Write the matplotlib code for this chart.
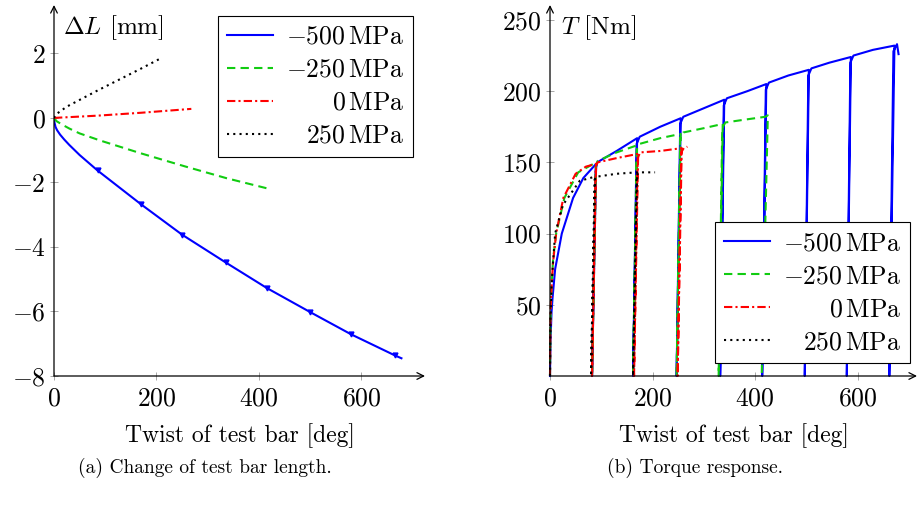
import numpy as np
import matplotlib
matplotlib.use("Agg")
import matplotlib.pyplot as plt

plt.rcParams["font.family"] = ["cmr10", "DejaVu Serif"]
plt.rcParams["mathtext.fontset"] = "cm"
plt.rcParams["axes.formatter.use_mathtext"] = True
plt.rcParams["font.size"] = 17

# ---- data: (a) change of test bar length ----
cycle_x = [85, 170, 250, 335, 415, 500, 580, 665]

dl_m500_x = [0, 1, 3, 6, 12, 20, 30, 50, 85, 170, 250, 335, 415, 500, 580, 665, 678]
dl_m500_y = [0, -0.15, -0.28, -0.38, -0.52, -0.67, -0.84, -1.15, -1.63, -2.68, -3.62,
             -4.48, -5.27, -6.02, -6.71, -7.36, -7.45]
dl_m250_x = [0, 5, 15, 30, 50, 90, 170, 255, 337, 420]
dl_m250_y = [0, -0.1, -0.2, -0.33, -0.48, -0.7, -1.1, -1.5, -1.87, -2.2]
dl_0_x = [0, 85, 170, 268]
dl_0_y = [0, 0.07, 0.16, 0.28]
dl_250_x = [0, 3, 25, 85, 170, 205]
dl_250_y = [0, 0.1, 0.35, 0.85, 1.53, 1.82]

# ---- data: (b) torque response (loading / unloading path) ----
t_m500_x = [0, 1, 3, 5, 10, 23, 45, 65, 90, 82, 89, 92, 130, 170, 162, 169, 175, 215, 255,
            247, 254, 260, 300, 340, 332, 339, 345, 385, 422, 414, 421, 427, 465, 505,
            497, 504, 510, 545, 587, 579, 586, 592, 630, 672, 662, 670, 677, 680]
t_m500_y = [0, 25, 45, 55, 75, 100, 125, 139, 149, 0, 145, 150, 158, 167, 0, 163, 168, 175, 181,
            0, 177, 182, 188, 194, 0, 190, 195, 200, 205, 0, 201, 206, 211, 215,
            0, 211, 216, 220, 224, 0, 220, 225, 229, 232, 0, 228, 233, 226]
t_m250_x = [0, 1, 3, 6, 12, 28, 55, 75, 90, 82, 89, 93, 130, 170, 162, 169, 175, 215, 255,
            247, 254, 260, 300, 337, 329, 336, 342, 380, 420, 425, 413]
t_m250_y = [0, 40, 62, 82, 100, 125, 143, 147, 150, 0, 147, 151, 157, 162, 0, 159, 163, 167, 170,
            0, 167, 171, 174, 177, 0, 174, 178, 180, 182, 183, 0]
t_0_x = [0, 1, 3, 6, 12, 26, 50, 70, 90, 82, 89, 93, 130, 172, 164, 171, 176, 215, 257,
         249, 256, 261, 268]
t_0_y = [0, 45, 62, 80, 100, 125, 142, 147, 149, 0, 147, 150, 153, 156, 0, 153, 157, 158, 160,
         0, 157, 160, 161]
t_250_x = [0, 1, 3, 5, 10, 25, 58, 88, 80, 87, 92, 130, 170, 162, 169, 174, 205]
t_250_y = [0, 40, 62, 75, 100, 120, 137, 140, 0, 138, 140, 142, 143, 0, 141, 143, 143]

labels = [r"$-500\,\mathrm{MPa}$", r"$-250\,\mathrm{MPa}$", r"$0\,\mathrm{MPa}$", r"$250\,\mathrm{MPa}$"]
colors = ["#0000ff", "#11cc11", "#ff0000", "#000000"]
styles = ["-", (0, (4, 2.5)), (0, (4, 1.5, 1, 1.5)), (0, (1, 2))]

fig = plt.figure(figsize=(9.19, 5.05), dpi=100)
ax1 = fig.add_axes([54 / 919, 129 / 505, 371 / 919, 371 / 505])
ax2 = fig.add_axes([550 / 919, 129 / 505, 367 / 919, 371 / 505])


def style_axes(ax):
    for s in ["top", "right", "left", "bottom"]:
        ax.spines[s].set_visible(False)
    ax.tick_params(direction="inout", length=6, width=0.6, color="#999999", labelcolor="k",
                   labelsize=18.5)
    ax.tick_params(axis="x", pad=5)
    ax.tick_params(axis="y", pad=3)
    for xy in [(1, 0), (0, 1)]:
        ax.annotate("", xy=xy, xytext=(0, 0), xycoords="axes fraction",
                    arrowprops=dict(arrowstyle="->", lw=0.9, color="k", shrinkA=0, shrinkB=0,
                                    mutation_scale=12),
                    annotation_clip=False, zorder=5)
    ax.set_xticks([0, 200, 400, 600])
    ax.set_xlabel("Twist of test bar [deg]", labelpad=9)


def make_legend(ax, **kw):
    leg = ax.legend(fancybox=False, edgecolor="k", framealpha=1, handlelength=1.8,
                    borderpad=0.35, labelspacing=0.36, handletextpad=0.5, borderaxespad=0,
                    fontsize=18.5, **kw)
    leg.get_frame().set_linewidth(0.8)
    return leg


def right_align_legend(leg):
    # pgfplots puts the legend texts flush right
    fig.canvas.draw()
    r = fig.canvas.get_renderer()
    texts = leg.get_texts()
    widths = [t.get_window_extent(r).width for t in texts]
    w = max(widths)
    for t, tw in zip(texts, widths):
        t.set_position((w - tw, 0))


# (a)
lw = 1.5
data_a = [(dl_m500_x, dl_m500_y), (dl_m250_x, dl_m250_y), (dl_0_x, dl_0_y), (dl_250_x, dl_250_y)]
for (x, y), c, ls, lab in zip(data_a, colors, styles, labels):
    ax1.plot(x, y, color=c, ls=ls, lw=lw, label=lab)
mk = [i for i, v in enumerate(dl_m500_x) if v in cycle_x]
ax1.plot(np.array(dl_m500_x)[mk], np.array(dl_m500_y)[mk], ls="none", marker="v",
         ms=3.5, color=colors[0])
ax1.set_xlim(0, 724)
ax1.set_ylim(-8, 3.5)
ax1.set_yticks([-8, -6, -4, -2, 0, 2])
style_axes(ax1)
ax1.text(0.025, 0.94, r"$\Delta L$ [mm]", transform=ax1.transAxes, va="center", ha="left",
         fontsize=18)
leg1 = make_legend(ax1, loc="upper right", bbox_to_anchor=(1.0 - 12 / 371, 1.0 - 11 / 371))

# (b)
data_b = [(t_m500_x, t_m500_y), (t_m250_x, t_m250_y), (t_0_x, t_0_y), (t_250_x, t_250_y)]
for (x, y), c, ls, lab in zip(data_b, colors, styles, labels):
    ax2.plot(x, y, color=c, ls=ls, lw=lw, label=lab, clip_on=False)
ax2.set_xlim(0, 716)
ax2.set_ylim(0, 260.5)
ax2.set_yticks([50, 100, 150, 200, 250])
style_axes(ax2)
ax2.text(0.03, 0.94, r"$T$ [Nm]", transform=ax2.transAxes, va="center", ha="left",
         fontsize=18)
leg2 = make_legend(ax2, loc="lower right", bbox_to_anchor=(1.0 - 7 / 367, 13 / 371))

right_align_legend(leg1)
right_align_legend(leg2)

fig.text(205 / 919, 1 - 468 / 505, "(a) Change of test bar length.", ha="center", va="center",
         fontsize=14)
fig.text(695 / 919, 1 - 468 / 505, "(b) Torque response.", ha="center", va="center",
         fontsize=14)

fig.savefig("out.png", dpi=100)
